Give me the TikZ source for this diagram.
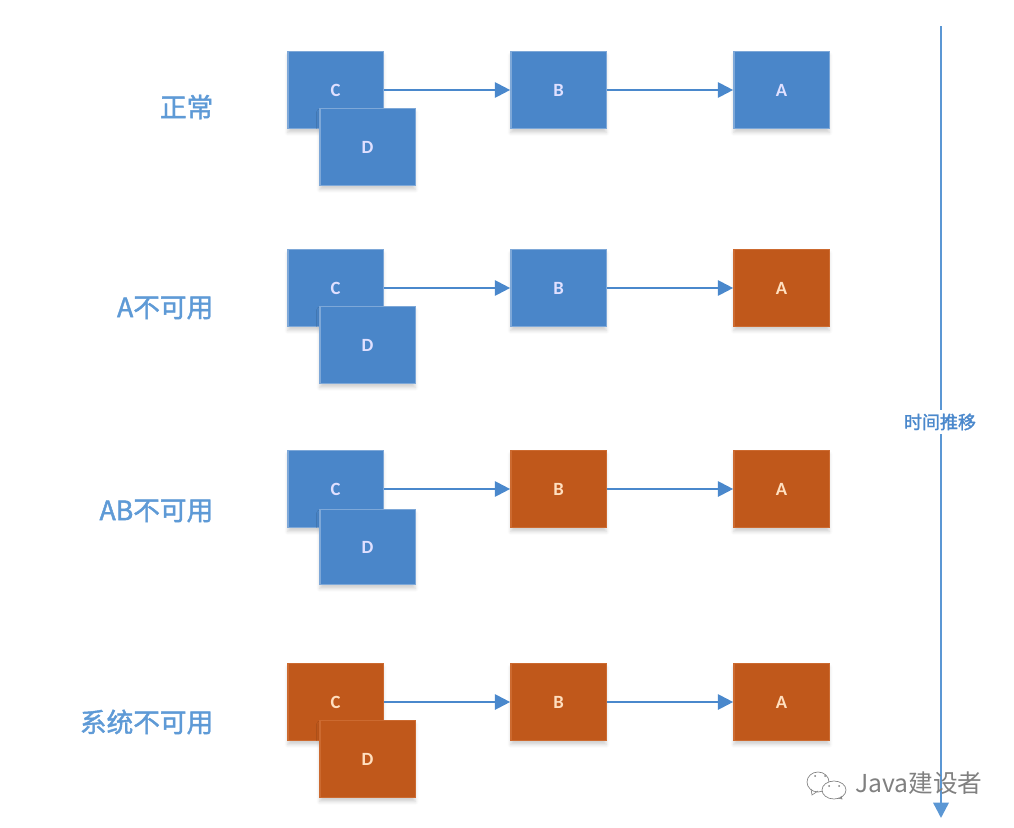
\documentclass[tikz,border=0pt]{standalone}
\usepackage{fontspec}
\setmainfont{Carlito}
\newfontfamily\cjkfont[FakeBold=1.6]{Noto Sans CJK SC}
\newfontfamily\markfont{Noto Sans CJK SC}
\usetikzlibrary{arrows.meta,shadows.blur}

\definecolor{okblue}{HTML}{4A86C9}
\definecolor{okedge}{HTML}{7EA8D8}
\definecolor{downorange}{HTML}{C0581B}
\definecolor{downedge}{HTML}{CC6A30}
\definecolor{labelblue}{HTML}{5E9AD6}
\definecolor{linkblue}{HTML}{4A88CC}

\tikzset{
    box/.style={draw, rectangle, line width=1pt, minimum width=71.5pt, minimum height=58pt, inner sep=0pt, font=\fontsize{14}{14}\bfseries, blur shadow={shadow xshift=0pt, shadow yshift=-3pt, shadow blur radius=2.5pt, shadow opacity=18}},
    okbox/.style={box, fill=okblue, draw=okedge, text=blue!12!white},
    downbox/.style={box, fill=downorange, draw=downedge, text=orange!25!white},
    rowlabel/.style={anchor=east, text=labelblue, font=\fontsize{20}{20}\cjkfont},
    link/.style={-{Triangle[length=11.5pt,width=11.5pt]}, line width=1.6pt, draw=linkblue}
}

\begin{document}
\begin{tikzpicture}[x=0.75pt, y=-0.75pt]
    \useasboundingbox (0,0) rectangle (1014,828);

    % Row 1: all available
    \node[okbox] (c1) at (335.5,90) {C};
    \node[okbox] (d1) at (367.5,147) {D};
    \node[okbox] (b1) at (558.5,90) {B};
    \node[okbox] (a1) at (781.5,90) {A};
    \node[rowlabel] (label1) at (218,107) {正常};

    % Row 2: A down
    \node[okbox] (c2) at (335.5,288) {C};
    \node[okbox] (d2) at (367.5,345) {D};
    \node[okbox] (b2) at (558.5,288) {B};
    \node[downbox] (a2) at (781.5,288) {A};
    \node[rowlabel] (label2) at (218,308) {A不可用};

    % Row 3: A and B down
    \node[okbox] (c3) at (335.5,489) {C};
    \node[okbox, minimum height=56.5pt] (d3) at (367.5,547) {D};
    \node[downbox] (b3) at (558.5,489) {B};
    \node[downbox] (a3) at (781.5,489) {A};
    \node[rowlabel] (label3) at (218,511) {AB不可用};

    % Row 4: everything down
    \node[downbox] (c4) at (335.5,702) {C};
    \node[downbox] (d4) at (367.5,759) {D};
    \node[downbox] (b4) at (558.5,702) {B};
    \node[downbox] (a4) at (781.5,702) {A};
    \node[rowlabel] (label4) at (218,722) {系统不可用};

    % Arrows
    \draw[link] (c1) -- (b1);
    \draw[link] (b1) -- (a1);
    \draw[link] (c2) -- (b2);
    \draw[link] (b2) -- (a2);
    \draw[link] (c3) -- (b3);
    \draw[link] (b3) -- (a3);
    \draw[link] (c4) -- (b4);
    \draw[link] (b4) -- (a4);

    % Time axis
    \coordinate (timestart) at (941,26);
    \coordinate (timeend) at (941,818);
    \draw[link, draw=labelblue!85!linkblue, line width=1.8pt] (timestart) -- (timeend);
    \node[fill=white, inner xsep=1pt, inner ysep=3pt, text=linkblue, font=\fontsize{13.5}{14}\cjkfont] (timelabel) at (940,422) {时间推移};

    % Watermark
    \node[anchor=west, inner sep=0pt, text=black!50, font=\fontsize{18.5}{20}\markfont] (mark) at (855,783) {Java建设者};
    \draw[black!50, line width=0.5pt, fill=white] (818,782) ellipse (11 and 10);
    \draw[black!50, line width=0.5pt] (811,789) -- (812,795) -- (818,791);
    \draw[black!50, line width=0.5pt, fill=white] (834,790) ellipse (12 and 9);
    \draw[black!50, line width=0.5pt] (838,798) -- (842,799) -- (841,796);
    \fill[black!50] (815,776) circle (1) (825,776) circle (1) (829,786) circle (1) (839,786) circle (1);
\end{tikzpicture}
\end{document}
